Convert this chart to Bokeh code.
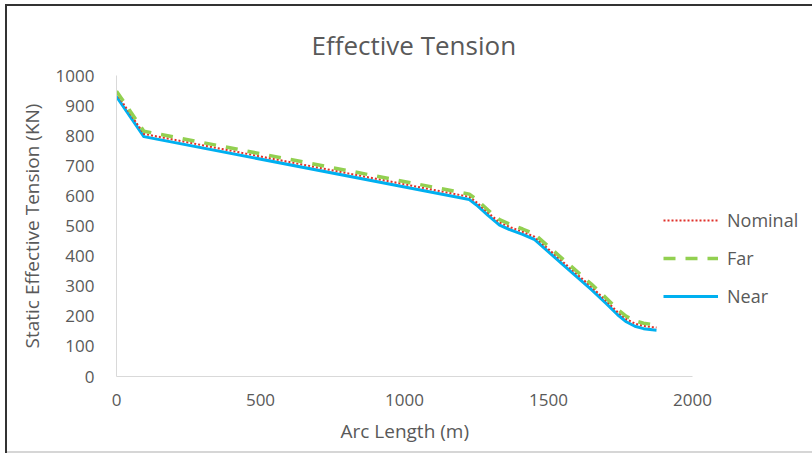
from bokeh.plotting import figure
from bokeh.models import Legend, LegendItem, Range1d, FixedTicker, Title
from bokeh.embed import file_html
from bokeh.resources import INLINE

arc_length = [0, 95, 1225, 1250, 1290, 1330, 1370, 1410, 1450, 1550, 1650, 1700, 1740, 1770, 1800, 1830, 1860, 1875]
near = [930, 797, 588, 570, 535, 503, 486, 472, 456, 372, 288, 243, 205, 182, 167, 159, 155, 154]
nominal = [940, 806, 597, 579, 544, 512, 495, 481, 465, 381, 297, 252, 214, 191, 176, 168, 164, 163]
far = [948, 815, 606, 588, 553, 521, 504, 490, 474, 390, 306, 261, 223, 200, 185, 177, 173, 172]
x_ticks = [0, 500, 1000, 1500, 2000]
y_ticks = [0, 100, 200, 300, 400, 500, 600, 700, 800, 900, 1000]

FONT = "Open Sans"
GREY = "#595959"

# frame spans beyond x=2000 so the legend (which sits right of the data) is not clipped
p = figure(width=812, height=453, output_backend="svg", toolbar_location=None,
           x_range=Range1d(0, 689 / 0.288), y_range=Range1d(0, 1000),
           min_border_left=116, min_border_right=7, min_border_top=75, min_border_bottom=77,
           title="Effective Tension", border_fill_alpha=0)
p.frame_width = 689
p.frame_height = 301
p.styles = {"box-shadow": "inset 5px 4px 0 0 #ffffff, inset 7px 6px 0 0 #333333, inset 0 -2px 0 0 #D6D6D6"}

p.title.align = "left"
p.title.offset = 195
p.title.text_font = FONT
p.title.text_font_size = "26px"
p.title.text_font_style = "normal"
p.title.text_color = GREY
p.title.standoff = 25

p.xgrid.visible = False
p.ygrid.visible = False
p.outline_line_color = None

for ax in (p.xaxis[0], p.yaxis[0]):
    ax.axis_line_color = "#D9D9D9"
    ax.axis_line_width = 1
    ax.major_tick_line_color = None
    ax.minor_tick_line_color = None
    ax.major_label_text_font = FONT
    ax.major_label_text_font_size = "17px"
    ax.major_label_text_color = GREY
    ax.axis_label_text_font = FONT
    ax.axis_label_text_font_size = "19px"
    ax.axis_label_text_font_style = "normal"
    ax.axis_label_text_color = GREY

p.xaxis.ticker = FixedTicker(ticks=x_ticks)
p.yaxis.ticker = FixedTicker(ticks=y_ticks)
p.xaxis.bounds = (0, 2000)
p.yaxis.axis_label = "Static Effective Tension (KN)"
p.xaxis.major_label_standoff = 11
p.yaxis.major_label_standoff = 16
p.yaxis.axis_label_standoff = 8

# x-axis title centred under the 0..2000 axis (frame is wider than the axis)
p.add_layout(Title(text="Arc Length (m)", align="left", offset=224, standoff=14,
                   text_font=FONT, text_font_size="19px", text_font_style="normal",
                   text_color=GREY), "below")

r_near = p.line(arc_length, near, line_color="#00B0F0", line_width=3, line_join="round")
r_nom = p.line(arc_length, nominal, line_color="#E0302A", line_width=2, line_dash="2 2")
r_far = p.line(arc_length, far, line_color="#92D050", line_width=3.5, line_dash="12 10")

legend = Legend(items=[LegendItem(label="Nominal", renderers=[r_nom]),
                       LegendItem(label="Far", renderers=[r_far]),
                       LegendItem(label="Near", renderers=[r_near])],
                location=(547, 67), orientation="vertical",
                border_line_color=None, background_fill_alpha=0,
                padding=0, margin=0, spacing=12,
                glyph_width=55, glyph_height=26, label_height=26,
                label_standoff=9,
                label_text_font=FONT, label_text_font_size="18px", label_text_color=GREY)
p.add_layout(legend, "center")

open("out.html", "w").write(file_html(p, INLINE))
